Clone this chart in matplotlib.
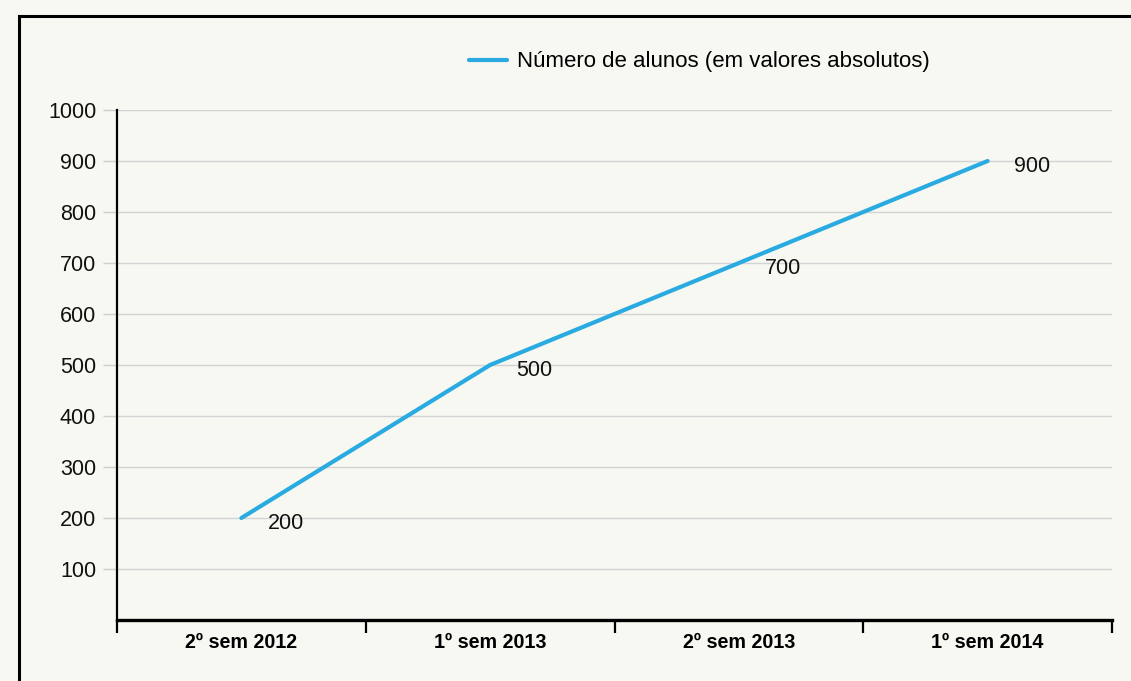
import matplotlib
matplotlib.use("Agg")
import matplotlib.pyplot as plt
from matplotlib.patches import Rectangle
from matplotlib.ticker import FixedLocator, NullFormatter, FixedFormatter

categories = ["2º sem 2012", "1º sem 2013", "2º sem 2013", "1º sem 2014"]
alunos = [200, 500, 700, 900]
y_ticks = [100, 200, 300, 400, 500, 600, 700, 800, 900, 1000]
series_label = "Número de alunos (em valores absolutos)"

plt.rcParams['font.family'] = ['Liberation Sans', 'DejaVu Sans']
bg = "#f7f8f1"
line_color = "#29abe2"

W, H = 1131, 681
fig = plt.figure(figsize=(W / 100, H / 100), dpi=100, facecolor=bg)

# outer frame (extends beyond right/bottom of image)
frame = Rectangle((19 / W, -0.1), 1.2, 1 - 16 / H + 0.1, transform=fig.transFigure,
                  fill=False, edgecolor="black", linewidth=2.2, clip_on=False)
fig.patches.append(frame)

ax = fig.add_axes([117 / W, 61 / H, (1112 - 117) / W, (620 - 110) / H], facecolor=bg)

x = [i + 0.5 for i in range(len(categories))]
line, = ax.plot(x, alunos, color=line_color, linewidth=3.0, solid_capstyle="round",
                label=series_label, zorder=3)

for xi, v in zip(x, alunos):
    ax.annotate(str(v), (xi, v), xytext=(19, -4), textcoords="offset points",
                ha="left", va="center", fontsize=15.5, color="#111111")

ax.set_xlim(0, len(categories))
ax.set_ylim(0, 1000)

ax.yaxis.set_major_locator(FixedLocator(y_ticks))
ax.set_yticklabels([str(t) for t in y_ticks])
ax.tick_params(axis="y", which="major", length=10, color="#cfcfcf", width=1,
               pad=5, labelsize=15.5, labelcolor="#111111")
ax.grid(axis="y", color="#d3d3d3", linewidth=1, zorder=0)

ax.xaxis.set_major_locator(FixedLocator(list(range(len(categories) + 1))))
ax.xaxis.set_major_formatter(NullFormatter())
ax.xaxis.set_minor_locator(FixedLocator(x))
ax.xaxis.set_minor_formatter(FixedFormatter(categories))
ax.tick_params(axis="x", which="major", length=9.5, width=1.6, color="black", direction="out")
ax.tick_params(axis="x", which="minor", length=0, pad=9, labelsize=14.2)
for lbl in ax.xaxis.get_minorticklabels():
    lbl.set_fontweight("bold")

for s in ["top", "right"]:
    ax.spines[s].set_visible(False)
ax.spines["left"].set_linewidth(1.6)
ax.spines["bottom"].set_linewidth(2.4)

leg = fig.legend(handles=[line], loc="center left", bbox_to_anchor=(469 / W, 1 - 62 / H),
                 frameon=False, fontsize=16, handlelength=1.72, handletextpad=0.45,
                 borderpad=0, borderaxespad=0)
for h in leg.legend_handles:
    h.set_solid_capstyle("round")

fig.savefig("out.png", dpi=100, facecolor=bg)
